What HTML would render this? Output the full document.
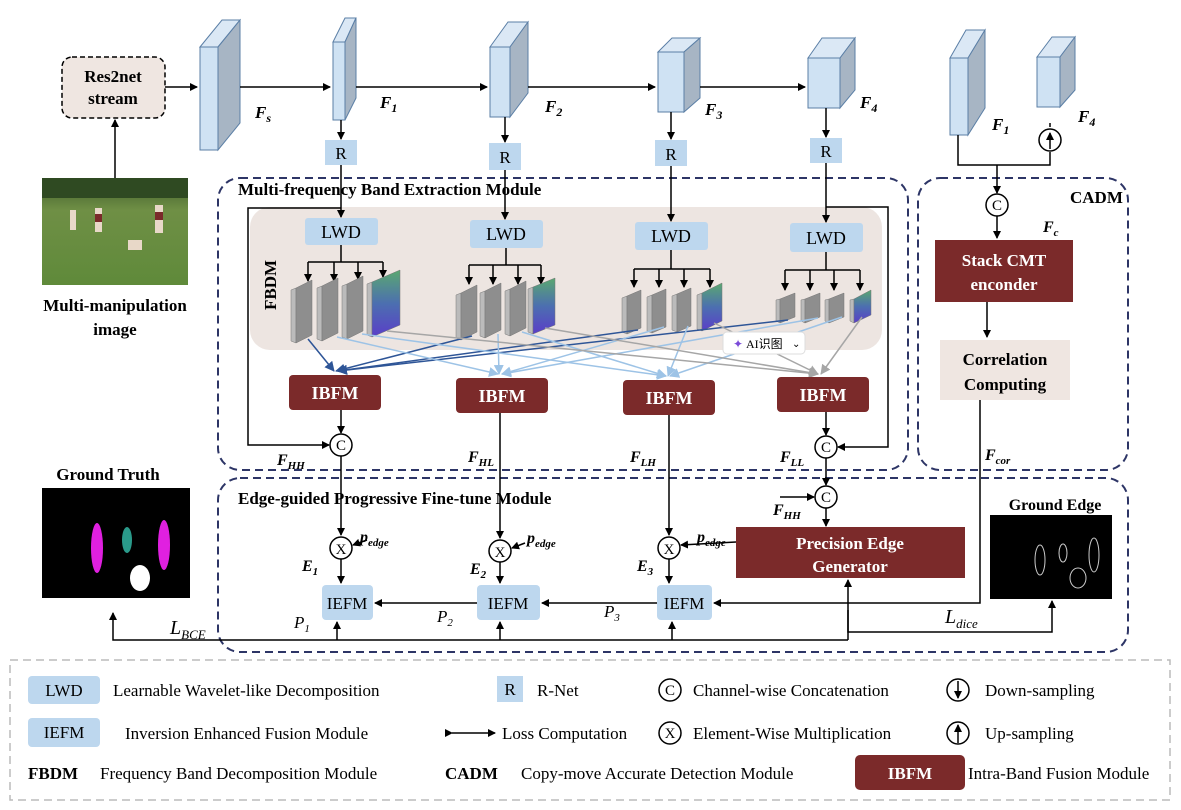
<!DOCTYPE html>
<html><head><meta charset="utf-8"><style>
body{margin:0;background:#fff}
svg{display:block}
text{font-family:"Liberation Serif",serif}
.b{font-weight:bold}
</style></head><body>
<svg width="1181" height="810" viewBox="0 0 1181 810" xmlns="http://www.w3.org/2000/svg">
<defs>
<marker id="a" markerWidth="8" markerHeight="8" refX="7" refY="4" orient="auto" markerUnits="userSpaceOnUse"><path d="M0,0 L8,4 L0,8 z" fill="#000"/></marker>
<marker id="ad" markerWidth="10" markerHeight="10" refX="9" refY="5" orient="auto" markerUnits="userSpaceOnUse"><path d="M0,0 L10,5 L0,10 z" fill="#2e5597"/></marker>
<marker id="al" markerWidth="10" markerHeight="10" refX="9" refY="5" orient="auto" markerUnits="userSpaceOnUse"><path d="M0,0 L10,5 L0,10 z" fill="#9dc3e6"/></marker>
<marker id="ag" markerWidth="10" markerHeight="10" refX="9" refY="5" orient="auto" markerUnits="userSpaceOnUse"><path d="M0,0 L10,5 L0,10 z" fill="#a6a6a6"/></marker>
<linearGradient id="grass" x1="0" y1="0" x2="0" y2="1"><stop offset="0" stop-color="#3d5a2a"/><stop offset="0.3" stop-color="#6f8f45"/><stop offset="1" stop-color="#5f8a3a"/></linearGradient>
<linearGradient id="col" x1="0" y1="0" x2="0" y2="1"><stop offset="0" stop-color="#5aa870"/><stop offset="0.5" stop-color="#4c6fb0"/><stop offset="1" stop-color="#5a3ec8"/></linearGradient>
</defs>

<!-- Res2net -->
<rect x="62" y="57" width="103" height="61" rx="10" fill="#efe6e1" stroke="#000" stroke-width="1.5" stroke-dasharray="5,3"/>
<text x="113" y="82" text-anchor="middle" class="b" font-size="17">Res2net</text>
<text x="113" y="104" text-anchor="middle" class="b" font-size="17">stream</text>
<line x1="115" y1="178" x2="115" y2="120" stroke="#000" stroke-width="1.5" marker-end="url(#a)"/>
<rect x="42" y="178" width="146" height="107" fill="url(#grass)"/>
<rect x="42" y="178" width="146" height="20" fill="#2f4a22"/>
<g fill="#e8d8c8"><rect x="70" y="210" width="6" height="20"/><rect x="95" y="208" width="7" height="24"/><rect x="155" y="205" width="8" height="28"/><rect x="128" y="240" width="14" height="10"/></g>
<g fill="#7a2a2a"><rect x="95" y="214" width="7" height="8"/><rect x="155" y="212" width="8" height="8"/></g>
<text x="115" y="311" text-anchor="middle" class="b" font-size="17">Multi-manipulation</text>
<text x="115" y="335" text-anchor="middle" class="b" font-size="17">image</text>

<!-- cubes -->
<g stroke="#5b7fa6" stroke-width="1">
<polygon points="200,47 222,20 240,20 218,47" fill="#dbe8f5"/><polygon points="218,47 240,20 240,123 218,150" fill="#a7b5c4"/><rect x="200" y="47" width="18" height="103" fill="#cfe2f3"/>
<polygon points="333,42 345,18 356,18 345,42" fill="#dbe8f5"/><polygon points="345,42 356,18 356,98 345,120" fill="#a7b5c4"/><rect x="333" y="42" width="12" height="78" fill="#cfe2f3"/>
<polygon points="490,47 508,22 528,22 510,47" fill="#dbe8f5"/><polygon points="510,47 528,22 528,93 510,117" fill="#a7b5c4"/><rect x="490" y="47" width="20" height="70" fill="#cfe2f3"/>
<polygon points="658,52 672,38 700,38 684,52" fill="#dbe8f5"/><polygon points="684,52 700,38 700,98 684,112" fill="#a7b5c4"/><rect x="658" y="52" width="26" height="60" fill="#cfe2f3"/>
<polygon points="808,58 822,38 855,38 840,58" fill="#dbe8f5"/><polygon points="840,58 855,38 855,90 840,108" fill="#a7b5c4"/><rect x="808" y="58" width="32" height="50" fill="#cfe2f3"/>
<polygon points="950,58 966,30 985,30 968,58" fill="#dbe8f5"/><polygon points="968,58 985,30 985,108 968,135" fill="#a7b5c4"/><rect x="950" y="58" width="18" height="77" fill="#cfe2f3"/>
<polygon points="1037,57 1052,37 1075,37 1060,57" fill="#dbe8f5"/><polygon points="1060,57 1075,37 1075,90 1060,107" fill="#a7b5c4"/><rect x="1037" y="57" width="23" height="50" fill="#cfe2f3"/>
</g>
<g stroke="#000" stroke-width="1.5" fill="none">
<line x1="165" y1="87" x2="197" y2="87" marker-end="url(#a)"/>
<line x1="240" y1="87" x2="330" y2="87" marker-end="url(#a)"/>
<line x1="356" y1="87" x2="487" y2="87" marker-end="url(#a)"/>
<line x1="528" y1="87" x2="655" y2="87" marker-end="url(#a)"/>
<line x1="700" y1="87" x2="805" y2="87" marker-end="url(#a)"/>
<line x1="341" y1="120" x2="341" y2="139" marker-end="url(#a)"/>
<line x1="505" y1="117" x2="505" y2="142" marker-end="url(#a)"/>
<line x1="671" y1="112" x2="671" y2="139" marker-end="url(#a)"/>
<line x1="826" y1="108" x2="826" y2="137" marker-end="url(#a)"/>
</g>
<g class="b" font-size="17" font-style="italic">
<text x="255" y="118">F<tspan font-size="12" dy="4">s</tspan></text>
<text x="380" y="108">F<tspan font-size="12" dy="4">1</tspan></text>
<text x="545" y="112">F<tspan font-size="12" dy="4">2</tspan></text>
<text x="705" y="115">F<tspan font-size="12" dy="4">3</tspan></text>
<text x="860" y="108">F<tspan font-size="12" dy="4">4</tspan></text>
<text x="992" y="130">F<tspan font-size="12" dy="4">1</tspan></text>
<text x="1078" y="122">F<tspan font-size="12" dy="4">4</tspan></text>
</g>
<!-- R boxes -->
<g fill="#bdd7ee"><rect x="325" y="140" width="32" height="25"/><rect x="489" y="143" width="32" height="27"/><rect x="655" y="140" width="32" height="26"/><rect x="810" y="138" width="32" height="25"/></g>
<g font-size="17" text-anchor="middle"><text x="341" y="159">R</text><text x="505" y="163">R</text><text x="671" y="160">R</text><text x="826" y="157">R</text></g>

<!-- dashed modules -->
<g fill="none" stroke="#2d3566" stroke-width="2" stroke-dasharray="8,5">
<rect x="218" y="178" width="690" height="292" rx="22"/>
<rect x="918" y="178" width="210" height="292" rx="22"/>
<rect x="218" y="478" width="910" height="174" rx="22"/>
</g>
<text x="238" y="195" class="b" font-size="17">Multi-frequency Band Extraction Module</text>
<text x="1070" y="203" class="b" font-size="17">CADM</text>
<text x="238" y="504" class="b" font-size="17">Edge-guided Progressive Fine-tune Module</text>

<rect x="250" y="207" width="632" height="143" rx="20" fill="#ede5e1"/>
<text transform="translate(276,285) rotate(-90)" text-anchor="middle" class="b" font-size="17">FBDM</text>

<!-- feeds to LWD -->
<g stroke="#000" stroke-width="1.5" fill="none">
<line x1="341" y1="165" x2="341" y2="217" marker-end="url(#a)"/>
<line x1="505" y1="170" x2="505" y2="219" marker-end="url(#a)"/>
<line x1="671" y1="166" x2="671" y2="221" marker-end="url(#a)"/>
<line x1="826" y1="163" x2="826" y2="222" marker-end="url(#a)"/>
<polyline points="341,208 248,208 248,445 329,445" marker-end="url(#a)"/>
<polyline points="826,207 888,207 888,447 838,447" marker-end="url(#a)"/>
</g>
<g fill="#bdd7ee"><rect x="305" y="218" width="73" height="27" rx="3"/><rect x="470" y="220" width="73" height="28" rx="3"/><rect x="635" y="222" width="73" height="28" rx="3"/><rect x="790" y="223" width="73" height="29" rx="3"/></g>
<g font-size="18" text-anchor="middle"><text x="341" y="238">LWD</text><text x="506" y="240">LWD</text><text x="671" y="242">LWD</text><text x="826" y="244">LWD</text></g>

<!-- trees -->
<g stroke="#000" stroke-width="1.5" fill="none">
<line x1="341" y1="245" x2="341" y2="262"/><line x1="308" y1="262" x2="383" y2="262"/>
<line x1="308" y1="262" x2="308" y2="281" marker-end="url(#a)"/><line x1="334" y1="262" x2="334" y2="281" marker-end="url(#a)"/><line x1="358" y1="262" x2="358" y2="279" marker-end="url(#a)"/><line x1="383" y1="262" x2="383" y2="277" marker-end="url(#a)"/>
<line x1="506" y1="248" x2="506" y2="265"/><line x1="469" y1="265" x2="541" y2="265"/>
<line x1="469" y1="265" x2="469" y2="284" marker-end="url(#a)"/><line x1="493" y1="265" x2="493" y2="284" marker-end="url(#a)"/><line x1="518" y1="265" x2="518" y2="284" marker-end="url(#a)"/><line x1="541" y1="265" x2="541" y2="284" marker-end="url(#a)"/>
<line x1="671" y1="250" x2="671" y2="269"/><line x1="634" y1="269" x2="710" y2="269"/>
<line x1="634" y1="269" x2="634" y2="287" marker-end="url(#a)"/><line x1="659" y1="269" x2="659" y2="287" marker-end="url(#a)"/><line x1="684" y1="269" x2="684" y2="287" marker-end="url(#a)"/><line x1="710" y1="269" x2="710" y2="287" marker-end="url(#a)"/>
<line x1="826" y1="252" x2="826" y2="270"/><line x1="785" y1="270" x2="860" y2="270"/>
<line x1="785" y1="270" x2="785" y2="290" marker-end="url(#a)"/><line x1="810" y1="270" x2="810" y2="290" marker-end="url(#a)"/><line x1="834" y1="270" x2="834" y2="290" marker-end="url(#a)"/><line x1="860" y1="270" x2="860" y2="290" marker-end="url(#a)"/>
</g>

<!-- slabs -->
<g stroke="#777" stroke-width="0.5">
<!-- stack1 -->
<polygon points="291,290 296,288 296,343 291,341" fill="#bbb"/><polygon points="296,288 312,280 312,335 296,343" fill="#8e8e8e"/>
<polygon points="317,288 322,286 322,341 317,339" fill="#bbb"/><polygon points="322,286 338,278 338,333 322,341" fill="#8e8e8e"/>
<polygon points="342,286 347,284 347,339 342,337" fill="#bbb"/><polygon points="347,284 363,276 363,331 347,339" fill="#8e8e8e"/>
<polygon points="367,284 372,282 372,337 367,335" fill="#bbb"/><polygon points="372,282 400,270 400,325 372,337" fill="url(#col)"/>
<!-- stack2 -->
<polygon points="456,295 461,293 461,340 456,338" fill="#bbb"/><polygon points="461,293 477,285 477,332 461,340" fill="#8e8e8e"/>
<polygon points="480,293 485,291 485,338 480,336" fill="#bbb"/><polygon points="485,291 501,283 501,330 485,338" fill="#8e8e8e"/>
<polygon points="505,291 510,289 510,336 505,334" fill="#bbb"/><polygon points="510,289 526,281 526,328 510,336" fill="#8e8e8e"/>
<polygon points="528,289 533,287 533,334 528,332" fill="#bbb"/><polygon points="533,287 555,278 555,325 533,334" fill="url(#col)"/>
<!-- stack3 -->
<polygon points="622,298 627,296 627,334 622,332" fill="#bbb"/><polygon points="627,296 641,290 641,328 627,334" fill="#8e8e8e"/>
<polygon points="647,297 652,295 652,333 647,331" fill="#bbb"/><polygon points="652,295 666,289 666,327 652,333" fill="#8e8e8e"/>
<polygon points="672,296 677,294 677,332 672,330" fill="#bbb"/><polygon points="677,294 691,288 691,326 677,332" fill="#8e8e8e"/>
<polygon points="697,295 702,293 702,331 697,329" fill="#bbb"/><polygon points="702,293 722,283 722,321 702,331" fill="url(#col)"/>
<!-- stack4 -->
<polygon points="776,300 780,299 780,323 776,321" fill="#bbb"/><polygon points="780,299 795,293 795,317 780,323" fill="#8e8e8e"/>
<polygon points="801,300 805,299 805,323 801,321" fill="#bbb"/><polygon points="805,299 820,293 820,317 805,323" fill="#8e8e8e"/>
<polygon points="825,300 829,299 829,323 825,321" fill="#bbb"/><polygon points="829,299 844,293 844,317 829,323" fill="#8e8e8e"/>
<polygon points="850,300 854,299 854,323 850,321" fill="#bbb"/><polygon points="854,299 871,290 871,315 854,323" fill="url(#col)"/>
</g>

<!-- colored connections -->
<g stroke-width="1.5" fill="none">
<g stroke="#2e5597"><line x1="308" y1="339" x2="334" y2="371" marker-end="url(#ad)"/><line x1="472" y1="336" x2="336" y2="371" marker-end="url(#ad)"/><line x1="638" y1="330" x2="338" y2="371" marker-end="url(#ad)"/><line x1="788" y1="320" x2="338" y2="371" marker-end="url(#ad)"/></g>
<g stroke="#9dc3e6"><line x1="337" y1="337" x2="498" y2="374" marker-end="url(#al)"/><line x1="498" y1="334" x2="499" y2="374" marker-end="url(#al)"/><line x1="664" y1="327" x2="502" y2="374" marker-end="url(#al)"/><line x1="818" y1="318" x2="502" y2="374" marker-end="url(#al)"/>
<line x1="362" y1="334" x2="666" y2="376" marker-end="url(#al)"/><line x1="522" y1="332" x2="666" y2="376" marker-end="url(#al)"/><line x1="688" y1="326" x2="668" y2="376" marker-end="url(#al)"/><line x1="842" y1="317" x2="670" y2="376" marker-end="url(#al)"/></g>
<g stroke="#a6a6a6"><line x1="387" y1="331" x2="818" y2="374" marker-end="url(#ag)"/><line x1="545" y1="328" x2="818" y2="374" marker-end="url(#ag)"/><line x1="714" y1="323" x2="818" y2="374" marker-end="url(#ag)"/><line x1="862" y1="317" x2="821" y2="374" marker-end="url(#ag)"/></g>
</g>
<!-- AI popup -->
<rect x="723" y="332" width="82" height="22" rx="4" fill="#fff" stroke="#ddd"/>
<text x="733" y="348" font-family="Liberation Sans" font-size="12" fill="#7a4ad8">✦</text>
<text x="746" y="348" font-family="Liberation Sans,Noto Sans CJK SC,sans-serif" font-size="12">AI识图</text>
<text x="792" y="347" font-family="Liberation Sans" font-size="10">⌄</text>

<!-- IBFM -->
<g fill="#7b2a2a"><rect x="289" y="375" width="92" height="35" rx="4"/><rect x="456" y="378" width="92" height="35" rx="4"/><rect x="623" y="380" width="92" height="35" rx="4"/><rect x="777" y="377" width="92" height="35" rx="4"/></g>
<g fill="#fff" class="b" font-size="18" text-anchor="middle"><text x="335" y="399">IBFM</text><text x="502" y="402">IBFM</text><text x="669" y="404">IBFM</text><text x="823" y="401">IBFM</text></g>

<!-- lower flow -->
<g stroke="#000" stroke-width="1.5" fill="none">
<line x1="341" y1="410" x2="341" y2="433" marker-end="url(#a)"/>
<line x1="826" y1="412" x2="826" y2="435" marker-end="url(#a)"/>
<line x1="341" y1="456" x2="341" y2="535" marker-end="url(#a)"/>
<line x1="500" y1="413" x2="500" y2="538" marker-end="url(#a)"/>
<line x1="669" y1="415" x2="669" y2="535" marker-end="url(#a)"/>
<line x1="826" y1="458" x2="826" y2="485" marker-end="url(#a)"/>
<line x1="826" y1="508" x2="826" y2="526" marker-end="url(#a)"/>
<line x1="780" y1="497" x2="814" y2="497" marker-end="url(#a)"/>
<line x1="367" y1="540" x2="353" y2="545" marker-end="url(#a)"/>
<line x1="525" y1="543" x2="512" y2="548" marker-end="url(#a)"/>
<line x1="736" y1="542" x2="681" y2="545" marker-end="url(#a)"/>
<line x1="341" y1="559" x2="341" y2="583" marker-end="url(#a)"/>
<line x1="500" y1="562" x2="500" y2="583" marker-end="url(#a)"/>
<line x1="669" y1="559" x2="669" y2="583" marker-end="url(#a)"/>
<line x1="657" y1="603" x2="542" y2="603" marker-end="url(#a)"/>
<line x1="477" y1="603" x2="375" y2="603" marker-end="url(#a)"/>
<polyline points="980,400 980,603 714,603" marker-end="url(#a)"/>
<polyline points="848,640 113,640 113,613" marker-end="url(#a)"/>
<line x1="337" y1="640" x2="337" y2="622" marker-end="url(#a)"/>
<line x1="500" y1="640" x2="500" y2="622" marker-end="url(#a)"/>
<line x1="672" y1="640" x2="672" y2="622" marker-end="url(#a)"/>
<line x1="848" y1="640" x2="848" y2="580" marker-end="url(#a)"/>
<polyline points="848,610 848,632 1052,632 1052,601" marker-end="url(#a)"/>
</g>
<g fill="#fff" stroke="#000" stroke-width="1.5">
<circle cx="341" cy="445" r="11"/><circle cx="826" cy="447" r="11"/><circle cx="826" cy="497" r="11"/>
<circle cx="341" cy="548" r="11"/><circle cx="500" cy="551" r="11"/><circle cx="669" cy="548" r="11"/>
</g>
<g font-family="Liberation Sans" font-size="15" text-anchor="middle">
<text x="341" y="450">C</text><text x="826" y="452">C</text><text x="826" y="502">C</text>
<text x="341" y="554">X</text><text x="500" y="557">X</text><text x="669" y="554">X</text>
</g>
<g class="b" font-size="16" font-style="italic">
<text x="277" y="465">F<tspan font-size="11" dy="4">HH</tspan></text>
<text x="468" y="462">F<tspan font-size="11" dy="4">HL</tspan></text>
<text x="630" y="462">F<tspan font-size="11" dy="4">LH</tspan></text>
<text x="780" y="462">F<tspan font-size="11" dy="4">LL</tspan></text>
<text x="773" y="515">F<tspan font-size="11" dy="4">HH</tspan></text>
<text x="360" y="542">p<tspan font-size="11" dy="4">edge</tspan></text>
<text x="527" y="543">p<tspan font-size="11" dy="4">edge</tspan></text>
<text x="697" y="542">p<tspan font-size="11" dy="4">edge</tspan></text>
<text x="302" y="571">E<tspan font-size="11" dy="4">1</tspan></text>
<text x="470" y="574">E<tspan font-size="11" dy="4">2</tspan></text>
<text x="637" y="571">E<tspan font-size="11" dy="4">3</tspan></text>
<text x="985" y="460">F<tspan font-size="11" dy="4">cor</tspan></text>
<text x="1043" y="232">F<tspan font-size="11" dy="4">c</tspan></text>
</g>
<g font-size="17" font-style="italic">
<text x="294" y="628">P<tspan font-size="11" dy="4">1</tspan></text>
<text x="437" y="622">P<tspan font-size="11" dy="4">2</tspan></text>
<text x="604" y="617">P<tspan font-size="11" dy="4">3</tspan></text>
<text x="170" y="634" font-size="20">L<tspan font-size="13" dy="5">BCE</tspan></text>
<text x="945" y="623" font-size="20">L<tspan font-size="13" dy="5">dice</tspan></text>
</g>
<g fill="#bdd7ee"><rect x="322" y="585" width="51" height="35" rx="4"/><rect x="477" y="585" width="63" height="35" rx="4"/><rect x="657" y="585" width="55" height="35" rx="4"/></g>
<g font-size="17" text-anchor="middle"><text x="347" y="609">IEFM</text><text x="508" y="609">IEFM</text><text x="684" y="609">IEFM</text></g>
<rect x="736" y="527" width="229" height="51" fill="#7b2a2a"/>
<text x="850" y="549" text-anchor="middle" fill="#fff" class="b" font-size="17">Precision Edge</text>
<text x="850" y="572" text-anchor="middle" fill="#fff" class="b" font-size="17">Generator</text>

<!-- Ground truth / edge -->
<text x="108" y="480" text-anchor="middle" class="b" font-size="17">Ground Truth</text>
<rect x="42" y="488" width="148" height="110" fill="#000"/>
<g fill="#e020e0"><ellipse cx="97" cy="548" rx="6" ry="25"/><ellipse cx="164" cy="545" rx="6" ry="25"/></g>
<ellipse cx="127" cy="540" rx="5" ry="13" fill="#2a9a8a"/>
<ellipse cx="140" cy="578" rx="10" ry="13" fill="#fff"/>
<text x="1055" y="510" text-anchor="middle" class="b" font-size="16">Ground Edge</text>
<rect x="990" y="515" width="122" height="84" fill="#000"/>
<g fill="none" stroke="#ccc" stroke-width="1"><ellipse cx="1040" cy="560" rx="5" ry="15"/><ellipse cx="1063" cy="553" rx="4" ry="9"/><ellipse cx="1094" cy="555" rx="5" ry="17"/><ellipse cx="1078" cy="578" rx="8" ry="10"/></g>

<!-- CADM internals -->
<g stroke="#000" stroke-width="1.5" fill="none">
<polyline points="958,135 958,165 1050,165 1050,152"/>
<line x1="1050" y1="127" x2="1050" y2="123" />
<polyline points="997,165 997,193" marker-end="url(#a)"/>
<line x1="997" y1="216" x2="997" y2="238" marker-end="url(#a)"/>
<line x1="987" y1="302" x2="987" y2="337" marker-end="url(#a)"/>
</g>
<circle cx="1050" cy="140" r="11" fill="#fff" stroke="#000" stroke-width="1.5"/>
<line x1="1050" y1="149" x2="1050" y2="133" stroke="#000" stroke-width="1.5" marker-end="url(#a)"/>
<circle cx="997" cy="205" r="11" fill="#fff" stroke="#000" stroke-width="1.5"/>
<text x="997" y="210" text-anchor="middle" font-family="Liberation Sans" font-size="15">C</text>
<rect x="935" y="240" width="138" height="62" fill="#7b2a2a"/>
<text x="1004" y="266" text-anchor="middle" fill="#fff" class="b" font-size="17">Stack  CMT</text>
<text x="1004" y="290" text-anchor="middle" fill="#fff" class="b" font-size="17">enconder</text>
<rect x="940" y="340" width="130" height="60" fill="#efe6e1"/>
<text x="1005" y="365" text-anchor="middle" class="b" font-size="17">Correlation</text>
<text x="1005" y="390" text-anchor="middle" class="b" font-size="17">Computing</text>

<!-- Legend -->
<rect x="10" y="660" width="1160" height="140" fill="none" stroke="#bbb" stroke-width="1.5" stroke-dasharray="8,5"/>
<g font-size="17">
<rect x="28" y="676" width="72" height="28" rx="4" fill="#bdd7ee"/><text x="64" y="696" text-anchor="middle">LWD</text>
<text x="113" y="696">Learnable Wavelet-like Decomposition</text>
<rect x="497" y="676" width="26" height="26" fill="#bdd7ee"/><text x="510" y="695" text-anchor="middle">R</text>
<text x="537" y="696">R-Net</text>
<circle cx="670" cy="690" r="11" fill="#fff" stroke="#000" stroke-width="1.5"/><text x="670" y="695" text-anchor="middle" font-family="Liberation Sans" font-size="15">C</text>
<text x="693" y="696">Channel-wise Concatenation</text>
<circle cx="958" cy="690" r="11" fill="#fff" stroke="#000" stroke-width="1.5"/>
<line x1="958" y1="681" x2="958" y2="698" stroke="#000" stroke-width="1.5" marker-end="url(#a)"/>
<text x="985" y="696">Down-sampling</text>
<rect x="28" y="718" width="72" height="29" rx="4" fill="#bdd7ee"/><text x="64" y="738" text-anchor="middle">IEFM</text>
<text x="125" y="739">Inversion Enhanced Fusion Module</text>
<line x1="452" y1="733" x2="495" y2="733" stroke="#000" stroke-width="1.5" marker-end="url(#a)" marker-start="url(#a)"/>
<text x="502" y="739">Loss Computation</text>
<circle cx="670" cy="733" r="11" fill="#fff" stroke="#000" stroke-width="1.5"/><text x="670" y="738" text-anchor="middle" font-family="Liberation Sans" font-size="15">X</text>
<text x="693" y="739">Element-Wise Multiplication</text>
<circle cx="958" cy="733" r="11" fill="#fff" stroke="#000" stroke-width="1.5"/>
<line x1="958" y1="743" x2="958" y2="725" stroke="#000" stroke-width="1.5" marker-end="url(#a)"/>
<text x="985" y="739">Up-sampling</text>
<text x="28" y="779" class="b">FBDM</text>
<text x="100" y="779">Frequency Band Decomposition Module</text>
<text x="445" y="779" class="b">CADM</text>
<text x="521" y="779">Copy-move Accurate Detection Module</text>
<rect x="855" y="755" width="110" height="35" rx="5" fill="#7b2a2a"/><text x="910" y="779" text-anchor="middle" fill="#fff" class="b">IBFM</text>
<text x="968" y="779">Intra-Band Fusion Module</text>
</g>
</svg>
</body></html>
